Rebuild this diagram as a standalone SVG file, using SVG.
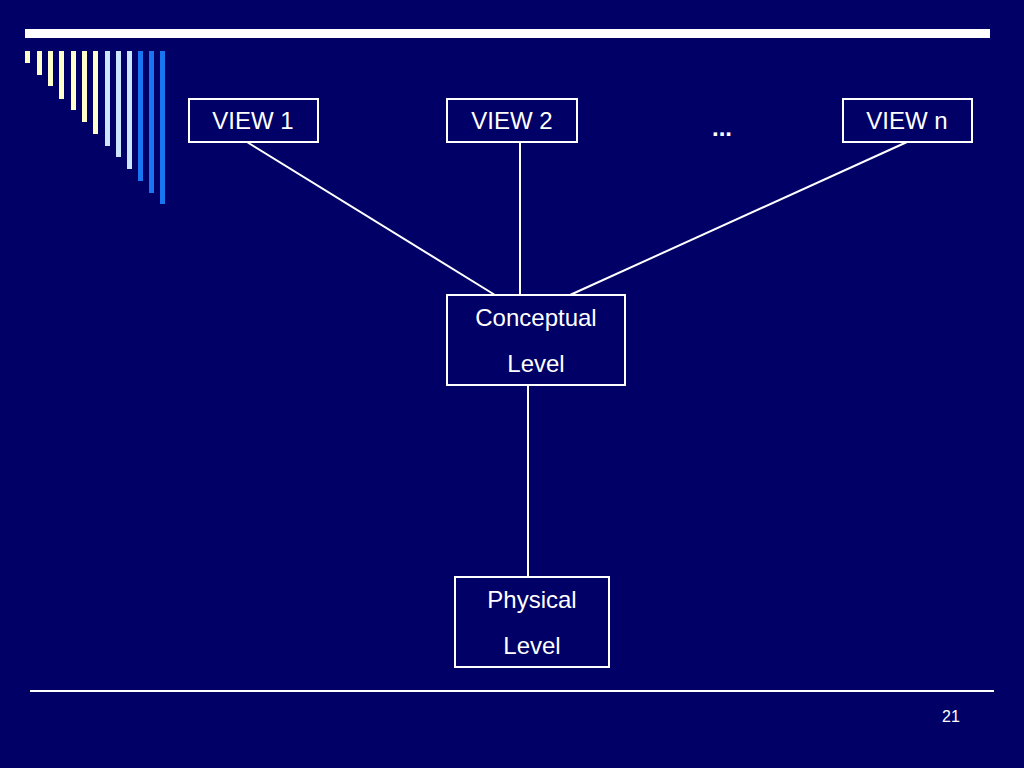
<svg xmlns="http://www.w3.org/2000/svg" width="1024" height="768" viewBox="0 0 1024 768">
<style>
.bg{fill:#000066}
.box{fill:#000066;stroke:#ffffff;stroke-width:2}
.t{font-family:"Liberation Sans",Arial,sans-serif;font-size:24px;fill:#ffffff;text-anchor:middle}
.conn line{stroke:#ffffff;stroke-width:2}
.cream{fill:#ffffcc}
.lblue{fill:#cce6ff}
.blue{fill:#1a75f0}
</style>
<rect class="bg" x="0" y="0" width="1024" height="768"/>
<g id="decoration">
<rect x="25" y="29" width="965" height="9" fill="#ffffff"/>
<rect class="cream" x="25" y="51" width="5" height="12"/>
<rect class="cream" x="37" y="51" width="5" height="24"/>
<rect class="cream" x="48" y="51" width="5" height="35"/>
<rect class="cream" x="59" y="51" width="5" height="48"/>
<rect class="cream" x="71" y="51" width="5" height="59"/>
<rect class="cream" x="82" y="51" width="5" height="71"/>
<rect class="cream" x="93" y="51" width="5" height="83"/>
<rect class="lblue" x="105" y="51" width="5" height="95"/>
<rect class="lblue" x="116" y="51" width="5" height="106"/>
<rect class="lblue" x="127" y="51" width="5" height="118"/>
<rect class="blue" x="138" y="51" width="5" height="130"/>
<rect class="blue" x="149" y="51" width="5" height="142"/>
<rect class="blue" x="160" y="51" width="5" height="153"/>
<rect x="30" y="690" width="964" height="2" fill="#ffffff"/>
<text x="951" y="722" font-family="'Liberation Sans',Arial,sans-serif" font-size="16" fill="#ffffff" text-anchor="middle">21</text>
</g>
<g id="connectors" class="conn">
<line x1="247" y1="142" x2="495" y2="295"/>
<line x1="520" y1="142" x2="520" y2="295"/>
<line x1="907" y1="142" x2="570" y2="295"/>
<line x1="528" y1="385" x2="528" y2="577"/>
</g>
<g id="view1">
<rect class="box" x="189" y="99" width="129" height="43"/>
<text class="t" x="253" y="129">VIEW 1</text>
</g>
<g id="view2">
<rect class="box" x="447" y="99" width="130" height="43"/>
<text class="t" x="512" y="129">VIEW 2</text>
</g>
<g id="ellipsis">
<text x="722" y="136" font-family="'Liberation Sans',Arial,sans-serif" font-size="24" font-weight="bold" fill="#ffffff" text-anchor="middle">...</text>
</g>
<g id="viewn">
<rect class="box" x="843" y="99" width="129" height="43"/>
<text class="t" x="907" y="129">VIEW n</text>
</g>
<g id="conceptual">
<rect class="box" x="447" y="295" width="178" height="90"/>
<text class="t" x="536" y="326">Conceptual</text>
<text class="t" x="536" y="372">Level</text>
</g>
<g id="physical">
<rect class="box" x="455" y="577" width="154" height="90"/>
<text class="t" x="532" y="608">Physical</text>
<text class="t" x="532" y="654">Level</text>
</g>
</svg>
